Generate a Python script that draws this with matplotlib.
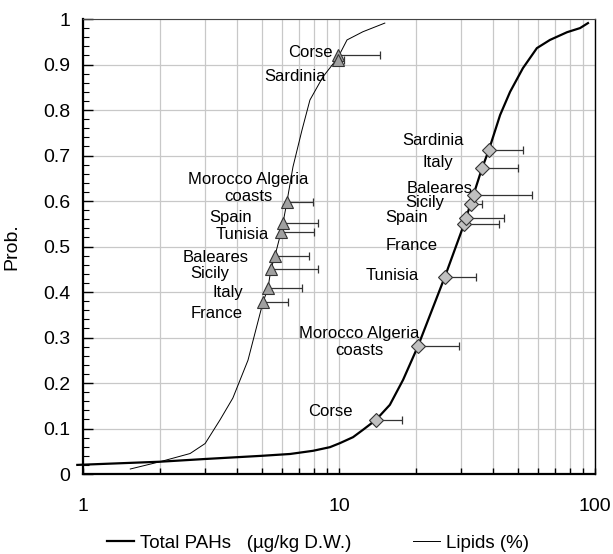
import numpy as np
import matplotlib.pyplot as plt
from matplotlib.ticker import LogLocator, MultipleLocator, FixedFormatter, FixedLocator, NullFormatter, FormatStrFormatter
from matplotlib.lines import Line2D

plt.rcParams['font.family'] = ['Liberation Sans', 'DejaVu Sans']

# cumulative curves
pahs_x = [0.95, 2, 3, 5, 6.44, 7.92, 9.22, 10.1, 11.35, 12.4, 13.95, 15.8, 17.8, 20.35,
          25.9, 30.8, 36.2, 38.5, 42.6, 46.6, 52.3, 59.3, 66.7, 77.8, 87.4, 93.9]
pahs_y = [0.02, 0.027, 0.033, 0.04, 0.044, 0.051, 0.059, 0.068, 0.081, 0.097, 0.119, 0.152,
          0.207, 0.281, 0.433, 0.549, 0.672, 0.712, 0.789, 0.840, 0.892, 0.936, 0.954,
          0.971, 0.980, 0.991]

lip_x = [1.53, 2.0, 2.62, 3.0, 3.43, 3.85, 4.41, 5.05, 5.28, 5.42, 5.62, 5.94, 6.04, 6.26,
         6.61, 7.17, 7.7, 8.66, 9.9, 10.75, 12.4, 15.1]
lip_y = [0.011, 0.027, 0.045, 0.067, 0.119, 0.167, 0.25, 0.378, 0.408, 0.45, 0.479, 0.532,
         0.551, 0.598, 0.675, 0.756, 0.822, 0.873, 0.915, 0.954, 0.972, 0.991]

# regional points (Lipids)
lip_sites = ['France', 'Italy', 'Sicily', 'Baleares', 'Tunisia', 'Spain',
             'Morocco Algeria\ncoasts', 'Corse', 'Sardinia']
lip_px = [5.05, 5.28, 5.42, 5.62, 5.94, 6.04, 6.26, 9.95, 9.9]
lip_py = [0.378, 0.408, 0.450, 0.479, 0.532, 0.551, 0.598, 0.921, 0.910]
lip_err = [6.3, 7.17, 8.28, 7.64, 7.99, 8.28, 7.92, 14.5, 10.46]

# regional points (Total PAHs)
pah_sites = ['Corse', 'Morocco Algeria\ncoasts', 'Tunisia', 'France', 'Spain',
             'Sicily', 'Baleares', 'Italy', 'Sardinia']
pah_px = [13.95, 20.35, 25.9, 30.8, 31.3, 32.8, 33.7, 36.2, 38.5]
pah_py = [0.119, 0.281, 0.433, 0.549, 0.563, 0.593, 0.613, 0.672, 0.712]
pah_err = [17.6, 29.4, 34.3, 42.2, 44.1, 36.3, 56.7, 50.0, 52.3]

# label offsets (points) and alignment
lip_off = [(-15, -8), (-18, -3), (-30, -3), (-19, -1), (-9, -2), (-22, 4), (-28, 10), (-4, 2), (-9, -12)]
lip_ha = ['right'] * 6 + ['center'] + ['right'] * 2
pah_off = [(-17, 6), (-42, 3), (-19, 1), (-19, -15), (-27, 0), (-19, 1), (-1, 5), (-21, 4), (-18, 7)]
pah_ha = ['right', 'center'] + ['right'] * 7

fig = plt.figure(figsize=(6.13, 5.54), dpi=100)
ax = fig.add_axes([0.1354, 0.1444, 0.8352, 0.8213])

ax.plot(pahs_x, pahs_y, color='black', lw=1.6, clip_on=False, zorder=3)
ax.plot(lip_x, lip_y, color='black', lw=0.7, zorder=3)

# error bars (upper side only)
ax.hlines(lip_py, lip_px, lip_err, color='#333333', lw=0.9, zorder=2)
ax.plot(lip_err, lip_py, ls='none', marker='|', ms=6, mew=0.9, color='#333333', zorder=2)
ax.hlines(pah_py, pah_px, pah_err, color='#333333', lw=0.9, zorder=2)
ax.plot(pah_err, pah_py, ls='none', marker='|', ms=6, mew=0.9, color='#333333', zorder=2)

ax.plot(lip_px, lip_py, ls='none', marker='^', ms=8, mfc='#a0a0a0', mec='#333333', mew=0.8, zorder=4)
ax.plot(pah_px, pah_py, ls='none', marker='D', ms=7.5, mfc='#c0c0c0', mec='#333333', mew=0.8, zorder=4)

for name, x, y, off, ha in zip(lip_sites, lip_px, lip_py, lip_off, lip_ha):
    ax.annotate(name, (x, y), xytext=off, textcoords='offset points', ha=ha, va='center',
                multialignment='center', fontsize=12, linespacing=1.1, zorder=5)
for name, x, y, off, ha in zip(pah_sites, pah_px, pah_py, pah_off, pah_ha):
    ax.annotate(name, (x, y), xytext=off, textcoords='offset points', ha=ha, va='center',
                multialignment='center', fontsize=12, linespacing=1.1, zorder=5)

ax.set_xscale('log')
ax.set_xlim(1, 100)
ax.set_ylim(0, 1)
ax.xaxis.set_major_locator(FixedLocator([1, 10, 100]))
ax.xaxis.set_major_formatter(FixedFormatter(['1', '10', '100']))
ax.xaxis.set_minor_locator(LogLocator(base=10, subs=np.arange(2, 10)))
ax.xaxis.set_minor_formatter(NullFormatter())
ax.yaxis.set_major_locator(MultipleLocator(0.1))
ax.yaxis.set_minor_locator(MultipleLocator(0.02))
ax.yaxis.set_major_formatter(FormatStrFormatter('%g'))

ax.grid(True, which='major', axis='both', color='#c8c8c8', lw=0.9)
ax.grid(True, which='minor', axis='x', color='#c8c8c8', lw=0.9)
ax.set_axisbelow(True)

ax.tick_params(axis='x', which='both', direction='in', length=4, width=1, pad=17, labelsize=14)
ax.tick_params(axis='y', which='major', direction='in', length=7, width=1, pad=9, labelsize=14)
ax.tick_params(axis='y', which='minor', direction='in', length=4, width=0.8)

for s in ['left', 'bottom']:
    ax.spines[s].set_linewidth(1.6)
ax.spines['right'].set_linewidth(1.0)
ax.spines['top'].set_linewidth(0.8)
ax.spines['top'].set_color('#444444')

ax.set_ylabel('Prob.', fontsize=14)
ax.yaxis.set_label_coords(-0.123, 0.5)

handles = [Line2D([], [], color='black', lw=1.6), Line2D([], [], color='black', lw=0.7)]
fig.legend(handles, ['Total PAHs   (µg/kg D.W.)', 'Lipids (%)'], loc='center',
           bbox_to_anchor=(318 / 613, 1 - 543 / 554), ncol=2, frameon=False, fontsize=13.5,
           handlelength=1.45, handletextpad=0.3, columnspacing=3.3)

fig.savefig('out.png', dpi=100)
